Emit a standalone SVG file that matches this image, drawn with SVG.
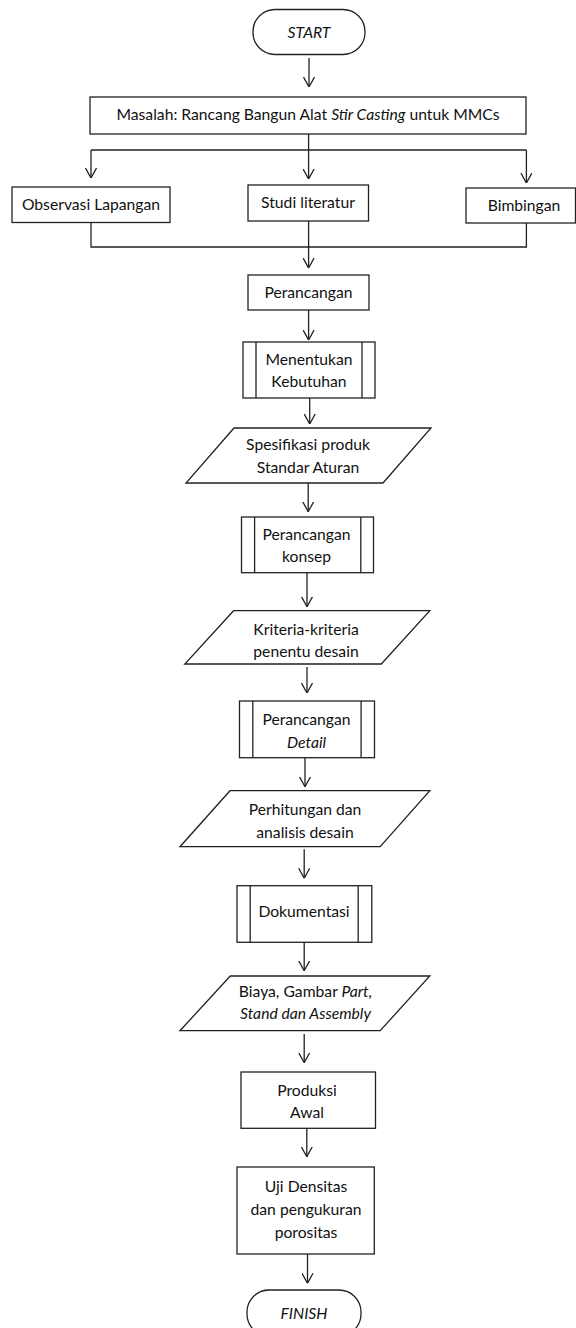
<svg xmlns="http://www.w3.org/2000/svg" width="576" height="1328" viewBox="0 0 576 1328">
<style>
.s{fill:#fff;stroke:#222;stroke-width:1.3}
.l{fill:none;stroke:#222;stroke-width:1.3}
.t{font-family:Lato,"Open Sans",sans-serif;font-size:15.7px;fill:#111;text-anchor:middle}
.i{font-style:italic}
</style>
<defs>
<marker id="a" viewBox="0 0 10 12" refX="10" refY="6" markerWidth="10" markerHeight="12" markerUnits="userSpaceOnUse" orient="auto">
<path d="M0,0.5 L10,6 L0,11.5" fill="none" stroke="#222" stroke-width="1.3"/>
</marker>
</defs>
<rect width="576" height="1328" fill="#fff"/>
<g id="connectors">
<line class="l" x1="309" y1="58" x2="309" y2="87" marker-end="url(#a)"/>
<line class="l" x1="308.6" y1="134" x2="308.6" y2="179" marker-end="url(#a)"/>
<line class="l" x1="91" y1="150" x2="526.4" y2="150"/>
<line class="l" x1="91" y1="150" x2="91" y2="178" marker-end="url(#a)"/>
<line class="l" x1="526.4" y1="150" x2="526.4" y2="183" marker-end="url(#a)"/>
<polyline class="l" points="91,222 91,247 526.4,247 526.4,223"/>
<line class="l" x1="308.6" y1="221" x2="308.6" y2="268" marker-end="url(#a)"/>
<line class="l" x1="308.6" y1="310" x2="308.6" y2="340" marker-end="url(#a)"/>
<line class="l" x1="309.7" y1="398" x2="309.7" y2="424" marker-end="url(#a)"/>
<line class="l" x1="308.2" y1="483" x2="308.2" y2="511.7" marker-end="url(#a)"/>
<line class="l" x1="307" y1="572.7" x2="307" y2="606.7" marker-end="url(#a)"/>
<line class="l" x1="307" y1="667" x2="307" y2="693" marker-end="url(#a)"/>
<line class="l" x1="305" y1="757.7" x2="305" y2="786.7" marker-end="url(#a)"/>
<line class="l" x1="304.2" y1="849.3" x2="304.2" y2="878.3" marker-end="url(#a)"/>
<line class="l" x1="304.2" y1="942.3" x2="304.2" y2="970.7" marker-end="url(#a)"/>
<line class="l" x1="304.2" y1="1034" x2="304.2" y2="1062.7" marker-end="url(#a)"/>
<line class="l" x1="306.8" y1="1128.3" x2="306.8" y2="1156.7" marker-end="url(#a)"/>
<line class="l" x1="307.5" y1="1254" x2="307.5" y2="1283.3" marker-end="url(#a)"/>
</g>
<g id="start">
<rect class="s" x="253" y="9.5" width="112" height="45" rx="22" ry="22"/>
<text class="t i" x="309" y="38">START</text>
</g>
<g id="masalah">
<rect class="s" x="90" y="97" width="436" height="37"/>
<text class="t" x="308" y="119.5">Masalah: Rancang Bangun Alat <tspan class="i">Stir Casting</tspan> untuk MMCs</text>
</g>
<g id="observasi">
<rect class="s" x="12" y="187" width="158" height="35.5"/>
<text class="t" x="91" y="209.5">Observasi Lapangan</text>
</g>
<g id="studi">
<rect class="s" x="248" y="185" width="120.5" height="36"/>
<text class="t" x="308" y="208">Studi literatur</text>
</g>
<g id="bimbingan">
<rect class="s" x="466" y="188" width="109.5" height="35"/>
<text class="t" x="524" y="210.5">Bimbingan</text>
</g>
<g id="perancangan">
<rect class="s" x="248" y="275" width="121" height="35"/>
<text class="t" x="308.5" y="297.5">Perancangan</text>
</g>
<g id="menentukan">
<rect class="s" x="243" y="342" width="132" height="56"/>
<line class="l" x1="256" y1="342" x2="256" y2="398"/>
<line class="l" x1="362" y1="342" x2="362" y2="398"/>
<text class="t" x="309" y="365">Menentukan</text>
<text class="t" x="309" y="387">Kebutuhan</text>
</g>
<g id="spesifikasi">
<polygon class="s" points="234,428 431,428 383,483 186,483"/>
<text class="t" x="308" y="450">Spesifikasi produk</text>
<text class="t" x="308" y="472.5">Standar Aturan</text>
</g>
<g id="konsep">
<rect class="s" x="241.5" y="517" width="132" height="55.7"/>
<line class="l" x1="254.6" y1="517" x2="254.6" y2="572.7"/>
<line class="l" x1="360.8" y1="517" x2="360.8" y2="572.7"/>
<text class="t" x="306.5" y="540">Perancangan</text>
<text class="t" x="306.5" y="562">konsep</text>
</g>
<g id="kriteria">
<polygon class="s" points="233.6,610.7 429.8,610.7 381.3,664 184.8,664"/>
<text class="t" x="306" y="634.5">Kriteria-kriteria</text>
<text class="t" x="306" y="656.5">penentu desain</text>
</g>
<g id="detail">
<rect class="s" x="239.5" y="701" width="135" height="56.7"/>
<line class="l" x1="252.8" y1="701" x2="252.8" y2="757.7"/>
<line class="l" x1="361.1" y1="701" x2="361.1" y2="757.7"/>
<text class="t" x="306.5" y="725">Perancangan</text>
<text class="t i" x="306.5" y="748">Detail</text>
</g>
<g id="perhitungan">
<polygon class="s" points="230,790.7 429.8,790.7 380.2,846.7 180,846.7"/>
<text class="t" x="305" y="815">Perhitungan dan</text>
<text class="t" x="305" y="837.5">analisis desain</text>
</g>
<g id="dokumentasi">
<rect class="s" x="237" y="885.7" width="134.8" height="56.6"/>
<line class="l" x1="250.2" y1="885.7" x2="250.2" y2="942.3"/>
<line class="l" x1="358.2" y1="885.7" x2="358.2" y2="942.3"/>
<text class="t" x="304" y="917">Dokumentasi</text>
</g>
<g id="biaya">
<polygon class="s" points="230.3,976 429.8,976 380.2,1030.7 180,1030.7"/>
<text class="t" x="305.5" y="996.5">Biaya, Gambar <tspan class="i">Part,</tspan></text>
<text class="t i" x="305.5" y="1018.5">Stand dan Assembly</text>
</g>
<g id="produksi">
<rect class="s" x="241" y="1072" width="134.5" height="56.3"/>
<text class="t" x="307" y="1095.5">Produksi</text>
<text class="t" x="307" y="1118">Awal</text>
</g>
<g id="uji">
<rect class="s" x="237" y="1167" width="137.3" height="87"/>
<text class="t" x="306" y="1191.5">Uji Densitas</text>
<text class="t" x="306" y="1215">dan pengukuran</text>
<text class="t" x="306" y="1238">porositas</text>
</g>
<g id="finish">
<rect class="s" x="247" y="1290" width="114" height="46" rx="22" ry="22"/>
<text class="t i" x="304" y="1318.5">FINISH</text>
</g>
</svg>
